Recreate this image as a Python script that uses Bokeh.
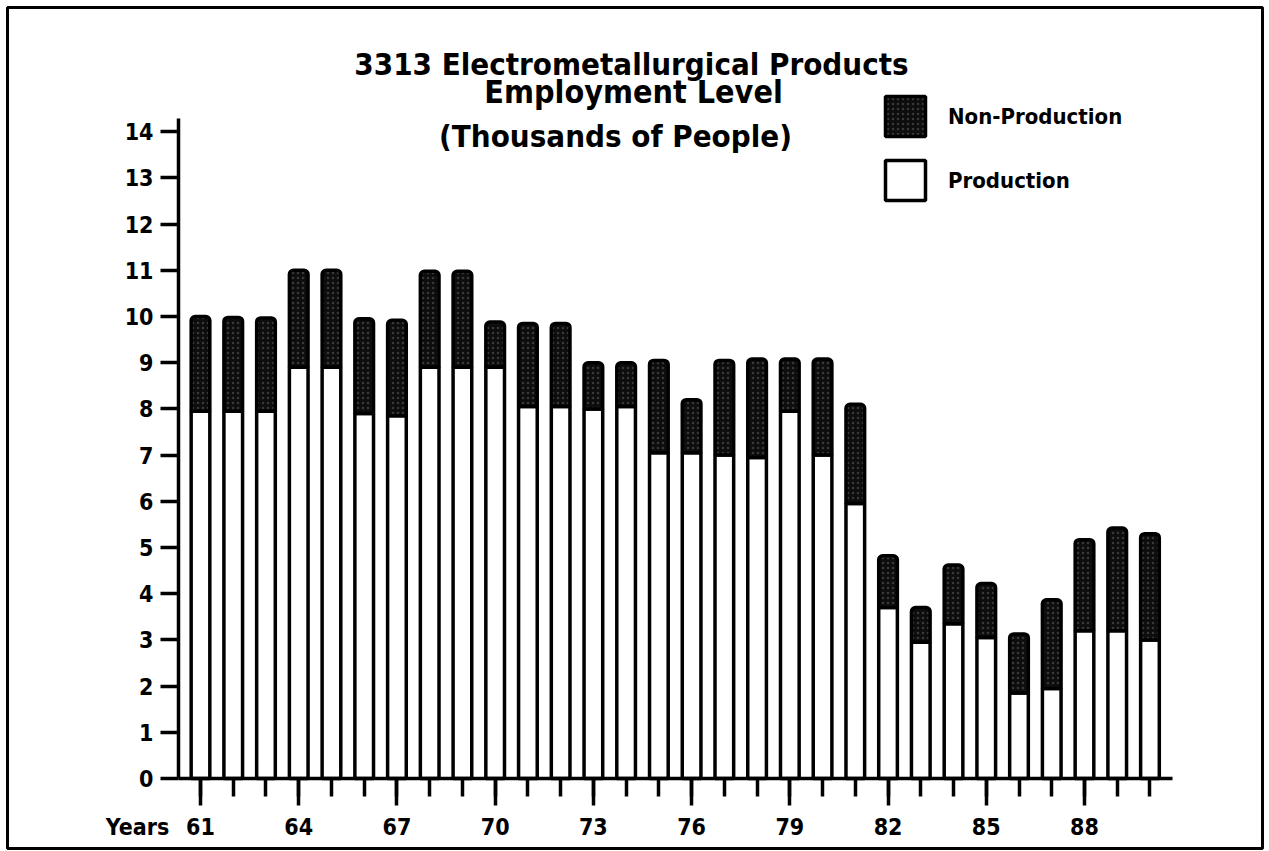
from bokeh.plotting import figure
from bokeh.models import FixedTicker, Label, Legend, LegendItem, Range1d, ColumnDataSource
from bokeh.embed import file_html
from bokeh.resources import INLINE

# ---------------- data ----------------
years = list(range(61, 91))
production = [7.95, 7.95, 7.95, 8.9, 8.9, 7.9, 7.85, 8.9, 8.9, 8.9,
              8.05, 8.05, 8.0, 8.05, 7.05, 7.05, 7.0, 6.95, 7.95, 7.0,
              5.95, 3.7, 2.95, 3.35, 3.05, 1.85, 1.95, 3.2, 3.2, 3.0]
total = [10.0, 9.98, 9.97, 11.0, 11.0, 9.95, 9.92, 10.98, 10.98, 9.88,
         9.85, 9.85, 9.0, 9.0, 9.05, 8.2, 9.05, 9.08, 9.08, 9.08,
         8.1, 4.82, 3.7, 4.62, 4.22, 3.13, 3.87, 5.17, 5.42, 5.3]
non_production = [round(t - p, 3) for t, p in zip(total, production)]
x_major = list(range(61, 91, 3))
x_labels = {yr: str(yr) for yr in x_major}
y_ticks = list(range(0, 15))

title_1 = "3313 Electrometallurgical Products"
title_2 = "Employment Level"
title_3 = "(Thousands of People)"

# ---------------- geometry (page pixels -> data) ----------------
W, H = 1266, 850
XS = 32.74        # px per year
YS = 46.2         # px per thousand


def dx(px):
    return 61 + (px - 200) / XS


def dy(py):
    return (778 - py) / YS


FONT = "'DejaVu Sans Condensed', 'Liberation Sans Narrow', sans-serif"

p = figure(width=W, height=H, output_backend="svg", toolbar_location=None,
           x_range=Range1d(dx(7), dx(W - 4)), y_range=Range1d(dy(848), dy(7)),
           min_border=0, min_border_left=7, min_border_right=4,
           min_border_top=7, min_border_bottom=2)
p.background_fill_color = "white"
p.border_fill_color = "white"
p.outline_line_color = "black"
p.outline_line_width = 3
p.xgrid.visible = False
p.ygrid.visible = False

src = ColumnDataSource(dict(x=years, prod=production, tot=total, nonp=non_production))

BW = 0.57
r_prod = p.vbar(x="x", bottom=0, top="prod", width=BW, source=src,
                fill_color="white", line_color="black", line_width=3.5)
r_non = p.vbar(x="x", bottom="prod", top="tot", width=BW, source=src,
               fill_color="#0d0d0d", line_color="black", line_width=3.5,
               hatch_pattern="dot", hatch_color="#a0a0a0", hatch_scale=5,
               hatch_weight=1, hatch_alpha=0.3, border_radius=(4, 4, 0, 0))

# axes
xa = p.xaxis[0]
xa.fixed_location = 0
xa.bounds = (dx(178), dx(1172))
xa.ticker = FixedTicker(ticks=x_major, minor_ticks=years)
xa.major_label_overrides = x_labels
xa.axis_line_width = 3.5
xa.major_tick_line_width = 3.5
xa.minor_tick_line_width = 3.5
xa.major_tick_out = 27
xa.major_tick_in = 0
xa.minor_tick_out = 18
xa.minor_tick_in = 0
xa.major_label_standoff = 12
xa.major_label_text_font = FONT
xa.major_label_text_font_size = "23px"
xa.major_label_text_font_style = "bold"
xa.major_label_text_color = "black"

ya = p.yaxis[0]
ya.fixed_location = dx(178)
ya.bounds = (0, dy(118))
ya.ticker = FixedTicker(ticks=y_ticks, minor_ticks=[])
ya.axis_line_width = 3.5
ya.major_tick_line_width = 3.5
ya.major_tick_out = 18
ya.major_tick_in = 0
ya.minor_tick_out = 0
ya.major_label_standoff = 7
ya.major_label_text_font = FONT
ya.major_label_text_font_size = "23px"
ya.major_label_text_font_style = "bold"
ya.major_label_text_color = "black"

# titles
for txt, cx, by, fs in [(title_1, 631, 63, "31px"), (title_2, 633, 91, "32px"),
                        (title_3, 615, 135, "31px")]:
    p.add_layout(Label(x=dx(cx), y=dy(by), text=txt, text_align="center",
                       text_baseline="alphabetic", text_font=FONT,
                       text_font_size=fs, text_font_style="bold", text_color="black"))

p.add_layout(Label(x=dx(137), y=dy(826), text="Years", text_align="center",
                   text_baseline="alphabetic", text_font=FONT, text_font_size="23px",
                   text_font_style="bold", text_color="black"))

frame_h = 848 - 7
legend = Legend(items=[LegendItem(label="Non-Production", renderers=[r_non]),
                       LegendItem(label="Production", renderers=[r_prod])],
                location=(880 - 7, frame_h - (91 - 7) - 114), orientation="vertical",
                glyph_width=50, glyph_height=50, label_height=50, spacing=14,
                label_standoff=18, padding=0, margin=0,
                border_line_alpha=0, background_fill_alpha=0,
                label_text_font=FONT, label_text_font_size="22px",
                label_text_font_style="bold", label_text_color="black")
p.add_layout(legend, "center")

open("out.html", "w").write(file_html(p, INLINE))
